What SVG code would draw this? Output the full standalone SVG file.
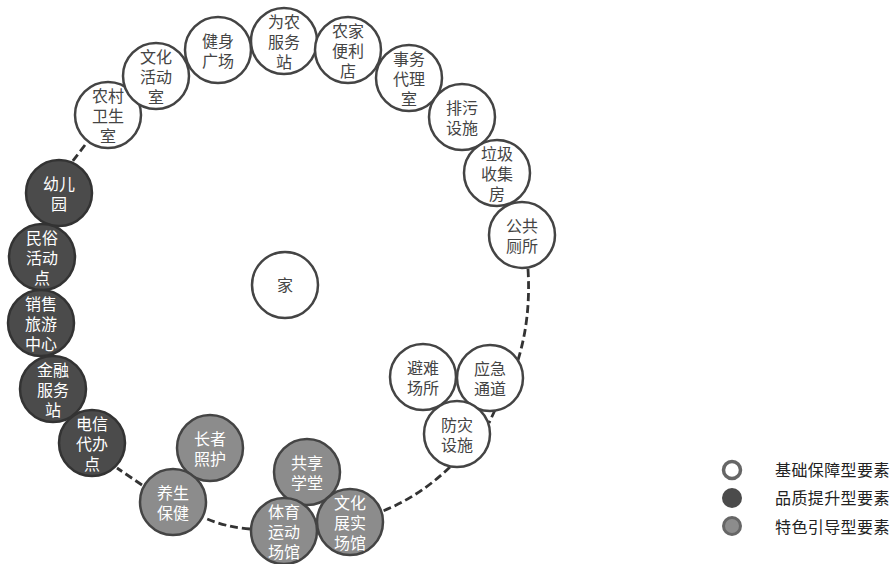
<svg xmlns="http://www.w3.org/2000/svg" width="895" height="564" viewBox="0 0 895 564">
<style>
text{font-family:"Liberation Sans","Noto Sans CJK SC",sans-serif;font-size:16px;text-anchor:middle;dominant-baseline:central}
.w circle{fill:#fff;stroke:#444;stroke-width:2.5}
.w text{fill:#444}
.d circle{fill:#4b4b4b;stroke:#333;stroke-width:2.5}
.d text{fill:#fff}
.m circle{fill:#8c8c8c;stroke:#444;stroke-width:2.5}
.m text{fill:#fff}
.conn path{fill:none;stroke:#333;stroke-width:2.8;stroke-dasharray:8 4}
.lg text{text-anchor:start;fill:#222;font-size:16px;letter-spacing:0.4px}
</style>
<rect width="895" height="564" fill="#fff"/>
<g class="conn">
<path d="M85,145 L72,162"/>
<path d="M528,269 Q531,318 518,360"/>
<path d="M495,410 L489,423"/>
<path d="M450,467 Q420,496 383,511"/>
<path d="M250,529 Q225,527 205,518"/>
<path d="M142,485 L117,468"/>
</g>
<g id="n1" class="w"><circle cx="108" cy="115" r="33"/><text x="108" y="96">农村<tspan x="108" dy="20">卫生</tspan><tspan x="108" dy="20">室</tspan></text></g>
<g id="n2" class="w"><circle cx="156" cy="76" r="33"/><text x="156" y="57">文化<tspan x="156" dy="20">活动</tspan><tspan x="156" dy="20">室</tspan></text></g>
<g id="n3" class="w"><circle cx="218" cy="50" r="33"/><text x="218" y="41">健身<tspan x="218" dy="20">广场</tspan></text></g>
<g id="n4" class="w"><circle cx="284" cy="41" r="33"/><text x="284" y="22">为农<tspan x="284" dy="20">服务</tspan><tspan x="284" dy="20">站</tspan></text></g>
<g id="n5" class="w"><circle cx="348" cy="50" r="33"/><text x="348" y="31">农家<tspan x="348" dy="20">便利</tspan><tspan x="348" dy="20">店</tspan></text></g>
<g id="n6" class="w"><circle cx="409" cy="78" r="33"/><text x="409" y="59">事务<tspan x="409" dy="20">代理</tspan><tspan x="409" dy="20">室</tspan></text></g>
<g id="n7" class="w"><circle cx="462" cy="117" r="33"/><text x="462" y="108">排污<tspan x="462" dy="20">设施</tspan></text></g>
<g id="n8" class="w"><circle cx="497" cy="173" r="33"/><text x="497" y="154">垃圾<tspan x="497" dy="20">收集</tspan><tspan x="497" dy="20">房</tspan></text></g>
<g id="n9" class="w"><circle cx="522" cy="235" r="33"/><text x="522" y="226">公共<tspan x="522" dy="20">厕所</tspan></text></g>
<g id="home" class="w"><circle cx="285" cy="285" r="33"/><text x="285" y="285">家</text></g>
<g id="n10" class="w"><circle cx="423" cy="377" r="33"/><text x="423" y="368">避难<tspan x="423" dy="20">场所</tspan></text></g>
<g id="n11" class="w"><circle cx="490" cy="378" r="33"/><text x="490" y="369">应急<tspan x="490" dy="20">通道</tspan></text></g>
<g id="n12" class="w"><circle cx="457" cy="434" r="33"/><text x="457" y="425">防灾<tspan x="457" dy="20">设施</tspan></text></g>
<g id="d1" class="d"><circle cx="59" cy="193" r="33"/><text x="59" y="184">幼儿<tspan x="59" dy="20">园</tspan></text></g>
<g id="d2" class="d"><circle cx="42" cy="257" r="33"/><text x="42" y="238">民俗<tspan x="42" dy="20">活动</tspan><tspan x="42" dy="20">点</tspan></text></g>
<g id="d3" class="d"><circle cx="41" cy="323" r="33"/><text x="41" y="304">销售<tspan x="41" dy="20">旅游</tspan><tspan x="41" dy="20">中心</tspan></text></g>
<g id="d4" class="d"><circle cx="53" cy="389" r="33"/><text x="53" y="370">金融<tspan x="53" dy="20">服务</tspan><tspan x="53" dy="20">站</tspan></text></g>
<g id="d5" class="d"><circle cx="92" cy="443" r="33"/><text x="92" y="424">电信<tspan x="92" dy="20">代办</tspan><tspan x="92" dy="20">点</tspan></text></g>
<g id="m1" class="m"><circle cx="210" cy="448" r="33"/><text x="210" y="439">长者<tspan x="210" dy="20">照护</tspan></text></g>
<g id="m2" class="m"><circle cx="173" cy="502" r="33"/><text x="173" y="493">养生<tspan x="173" dy="20">保健</tspan></text></g>
<g id="m3" class="m"><circle cx="307" cy="472" r="33"/><text x="307" y="463">共享<tspan x="307" dy="20">学堂</tspan></text></g>
<g id="m4" class="m"><circle cx="284" cy="531" r="33"/><text x="284" y="512">体育<tspan x="284" dy="20">运动</tspan><tspan x="284" dy="20">场馆</tspan></text></g>
<g id="m5" class="m"><circle cx="350" cy="522" r="33"/><text x="350" y="503">文化<tspan x="350" dy="20">展实</tspan><tspan x="350" dy="20">场馆</tspan></text></g>
<g id="legend" class="lg">
<circle cx="732" cy="470" r="8.5" fill="#fff" stroke="#666" stroke-width="3.5"/>
<circle cx="732" cy="498" r="10" fill="#4b4b4b"/>
<circle cx="732" cy="526" r="8.5" fill="#8c8c8c" stroke="#666" stroke-width="3"/>
<text x="775" y="470">基础保障型要素</text>
<text x="775" y="498">品质提升型要素</text>
<text x="775" y="527">特色引导型要素</text>
</g>
</svg>
